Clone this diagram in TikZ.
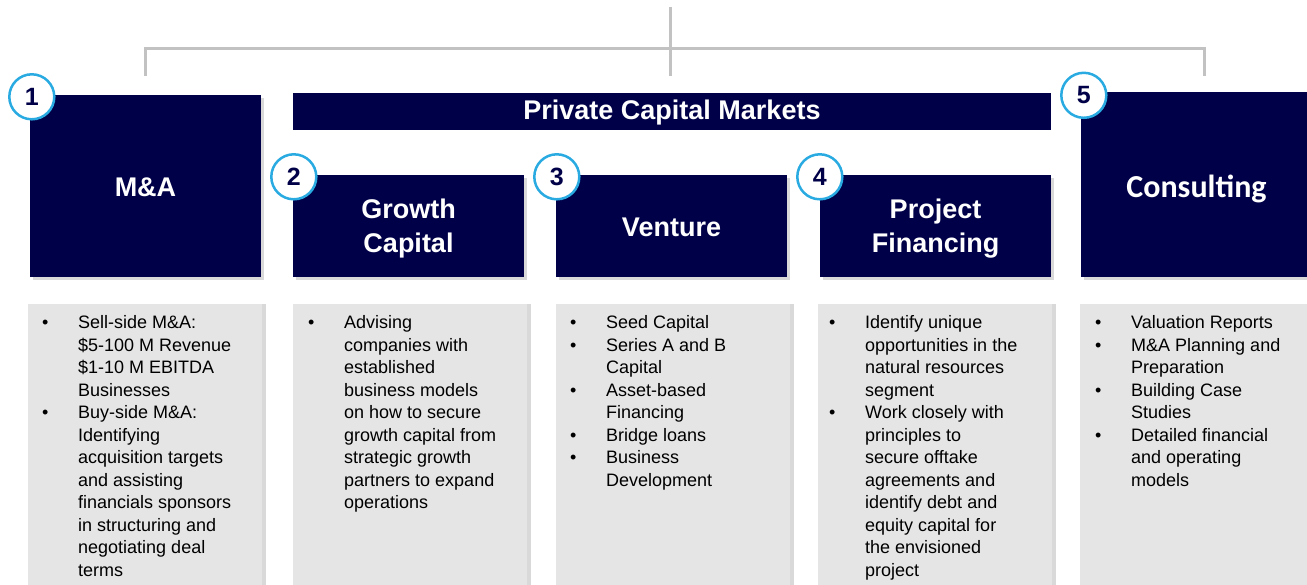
\documentclass[tikz,border=0pt]{standalone}
\usepackage{fontspec}
\setmainfont{Liberation Sans}
\newfontfamily\calibrifont{Carlito}
\usetikzlibrary{shadows}

\definecolor{navy}{RGB}{0,0,72}
\definecolor{ringblue}{RGB}{41,171,226}
\definecolor{panelgray}{RGB}{229,229,229}
\definecolor{linegray}{RGB}{194,194,194}

% bullet list with hanging text column
\newcommand{\bul}{\textbullet}
\newcommand{\itemlist}[1]{\begin{tabular}{@{}p{36pt}@{}l@{}}#1\end{tabular}}
% lower a title line without changing its box
\newcommand{\dropby}[2]{\raisebox{-#1}[\height][\depth]{#2}}

\tikzset{
  headbox/.style={fill=navy, text=white, inner sep=0pt, align=center,
    font=\fontsize{27}{34}\selectfont\bfseries,
    drop shadow={shadow xshift=3pt, shadow yshift=-3pt, opacity=.3}},
  numring/.style={circle, draw=ringblue, line width=2.5pt, fill=white,
    minimum size=45pt, inner sep=0pt, text=navy,
    font=\fontsize{25}{25}\selectfont\bfseries},
  panel/.style={fill=panelgray, inner sep=0pt, anchor=north west,
    minimum width=234pt, minimum height=295pt,
    drop shadow={shadow xshift=4pt, shadow yshift=0pt, opacity=.3}},
  paneltext/.style={anchor=north west, inner sep=0pt,
    font=\fontsize{18}{22.5}\selectfont},
  bracket/.style={draw=linegray, line width=3pt}
}

\begin{document}
\begin{tikzpicture}[x=1pt, y=-1pt]
  \useasboundingbox (0,0) rectangle (1307,585);
  \clip (0,0) rectangle (1307,585);

  % top bracket
  \coordinate (root) at (670,7);
  \coordinate (hub) at (670,49);
  \coordinate (ma-stub) at (145,76);
  \coordinate (pcm-stub) at (670,76);
  \coordinate (cons-stub) at (1204,76);
  \draw[bracket] (root) -- (pcm-stub);
  \draw[bracket] (ma-stub) |- (hub) -| (cons-stub);

  % header boxes
  \node[headbox, minimum width=231pt, minimum height=182pt] (ma) at (145.5,186) {\dropby{1pt}{M\&A}};
  \node[fill=navy, text=white, inner sep=0pt, minimum width=758pt, minimum height=37pt,
    font=\fontsize{27}{34}\selectfont\bfseries] (pcm) at (672,111.5) {\dropby{1pt}{Private Capital Markets}};
  \node[headbox, minimum width=231pt, minimum height=102pt] (growth) at (408.5,226) {\dropby{3pt}{Growth}\\\dropby{3pt}{Capital}};
  \node[headbox, minimum width=231pt, minimum height=102pt] (venture) at (671.5,226) {\dropby{1pt}{Venture}};
  \node[headbox, minimum width=231pt, minimum height=102pt] (project) at (935.5,226) {\dropby{3pt}{Project}\\\dropby{3pt}{Financing}};
  \node[headbox, minimum width=231pt, minimum height=185pt,
    font=\fontsize{32}{36}\selectfont\calibrifont\bfseries] (consult) at (1196.5,184.5) {\dropby{4pt}{Consulting}};

  % numbered rings
  \node[numring] (n1) at ([shift={(2,2)}]ma.north west) {1};
  \node[numring] (n2) at ([shift={(1,2)}]growth.north west) {2};
  \node[numring] (n3) at ([shift={(1,2)}]venture.north west) {3};
  \node[numring] (n4) at ([shift={(0,2)}]project.north west) {4};
  \node[numring] (n5) at ([shift={(3,3.5)}]consult.north west) {5};

  % detail panels
  \node[panel] (ma-panel) at (28,304) {};
  \node[panel] (growth-panel) at (293,304) {};
  \node[panel] (venture-panel) at (556,304) {};
  \node[panel] (project-panel) at (818,304) {};
  \node[panel] (consult-panel) at (1080,304) {};

  \node[paneltext] (ma-text) at ([shift={(14,9)}]ma-panel.north west) {\itemlist{
    \bul & Sell-side M\&A:\\
         & \$5-100 M Revenue\\
         & \$1-10 M EBITDA\\
         & Businesses\\
    \bul & Buy-side M\&A:\\
         & Identifying\\
         & acquisition targets\\
         & and assisting\\
         & financials sponsors\\
         & in structuring and\\
         & negotiating deal\\
         & terms}};
  \node[paneltext] (growth-text) at ([shift={(15,9)}]growth-panel.north west) {\itemlist{
    \bul & Advising\\
         & companies with\\
         & established\\
         & business models\\
         & on how to secure\\
         & growth capital from\\
         & strategic growth\\
         & partners to expand\\
         & operations}};
  \node[paneltext] (venture-text) at ([shift={(14,9)}]venture-panel.north west) {\itemlist{
    \bul & Seed Capital\\
    \bul & Series A and B\\
         & Capital\\
    \bul & Asset-based\\
         & Financing\\
    \bul & Bridge loans\\
    \bul & Business\\
         & Development}};
  \node[paneltext] (project-text) at ([shift={(11,9)}]project-panel.north west) {\itemlist{
    \bul & Identify unique\\
         & opportunities in the\\
         & natural resources\\
         & segment\\
    \bul & Work closely with\\
         & principles to\\
         & secure offtake\\
         & agreements and\\
         & identify debt and\\
         & equity capital for\\
         & the envisioned\\
         & project}};
  \node[paneltext] (consult-text) at ([shift={(15,9)}]consult-panel.north west) {\itemlist{
    \bul & Valuation Reports\\
    \bul & M\&A Planning and\\
         & Preparation\\
    \bul & Building Case\\
         & Studies\\
    \bul & Detailed financial\\
         & and operating\\
         & models}};
\end{tikzpicture}
\end{document}
